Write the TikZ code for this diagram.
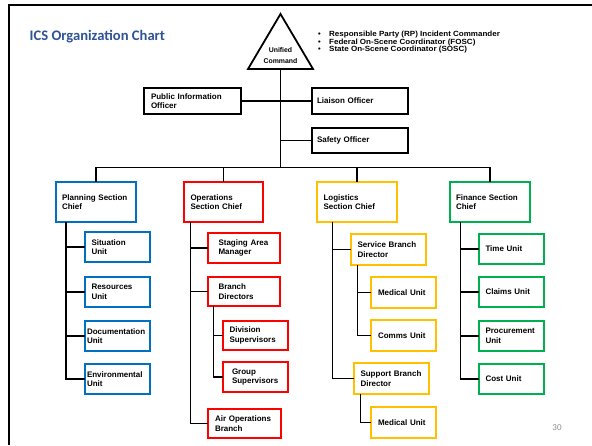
\documentclass[tikz,border=0pt]{standalone}
\usepackage{fontspec}
\setmainfont{Liberation Sans}
\newfontfamily\titlefont{Carlito}
\usetikzlibrary{calc}
\definecolor{cblue}{HTML}{0070C0}
\definecolor{cred}{HTML}{FF0000}
\definecolor{cyel}{HTML}{FFC000}
\definecolor{cgrn}{HTML}{00B050}
\definecolor{ctitle}{HTML}{2F5496}
\definecolor{cnum}{HTML}{8C8C8C}
\begin{document}
\begin{tikzpicture}[x=1pt,y=-1pt,
  bx/.style={draw, line width=2pt, fill=white, align=left,
    font=\bfseries\fontsize{8}{9.6}\selectfont, anchor=north west,
    inner ysep=0pt, outer sep=0pt},
  bk/.style={bx, draw=black},
  bb/.style={bx, draw=cblue},
  br/.style={bx, draw=cred},
  by/.style={bx, draw=cyel},
  bg/.style={bx, draw=cgrn},
  conn/.style={line width=1.4pt, black},
  bul/.style={anchor=base west, inner sep=0pt, font=\bfseries\fontsize{7.5}{8}\selectfont}
]
\useasboundingbox (0,0) rectangle (592,445);
\fill[white] (0,0) rectangle (592,445);
% frame
\draw[line width=2pt] (8.5,445) -- (8.5,5) -- (592,5);
% title
\node[anchor=base west, inner sep=0pt, text=ctitle, font=\titlefont\bfseries\fontsize{14.6}{16}\selectfont] (title) at (29.5,40) {ICS Organization Chart};
% unified command triangle
\coordinate (tl) at (248,69);
\coordinate (tt) at (280.5,14);
\coordinate (tr) at (313,69);
\coordinate (ucb) at (280.5,69);
\draw[line width=1.8pt, line join=miter] (tl) -- (tt) -- (tr) -- cycle;
\node[align=center, inner sep=0pt, font=\bfseries\fontsize{6.9}{10.5}\selectfont] (uc) at (280.5,55.5) {Unified\\Command};
% bullets
\node[bul] (b1) at (318,36) {\makebox[11pt][l]{•}\scalebox{1.07}[1]{Responsible Party (RP) Incident Commander}};
\node[bul] (b2) at (318,44) {\makebox[11pt][l]{•}\scalebox{1.07}[1]{Federal On-Scene Coordinator (FOSC)}};
\node[bul] (b3) at (318,51.5) {\makebox[11pt][l]{•}\scalebox{1.07}[1]{State On-Scene Coordinator (SOSC)}};
% command staff
\node[bk, inner xsep=7pt, text width=83pt, minimum height=26pt] (pio) at (144,88) {Public Information\\Officer};
\node[bk, inner xsep=5pt, text width=86pt, minimum height=26pt] (lia) at (312,88) {Liaison Officer};
\node[bk, inner xsep=5pt, text width=86pt, minimum height=25pt] (saf) at (312,128) {Safety Officer};
% section chiefs
\node[bb, inner xsep=6pt, text width=68pt, minimum height=40pt] (plan) at (56,182) {Planning Section\\Chief};
\node[br, inner xsep=6.5pt, text width=66pt, minimum height=40pt] (ops) at (184,182) {Operations\\Section Chief};
\node[by, inner xsep=6.5pt, text width=67pt, minimum height=40pt] (log) at (317,182) {Logistics\\Section Chief};
\node[bg, inner xsep=6pt, text width=68pt, minimum height=40pt] (fin) at (450,182) {Finance Section\\Chief};
% planning units
\node[bb, inner xsep=6.5pt, text width=52pt, minimum height=30pt] (sit) at (85,232) {Situation\\Unit};
\node[bb, inner xsep=6.5pt, text width=52pt, minimum height=30pt] (res) at (85,277) {Resources\\Unit};
\node[bb, inner xsep=2pt, text width=61pt, minimum height=30pt] (doc) at (85,321) {Documentation\\Unit};
\node[bb, inner xsep=2pt, text width=61pt, minimum height=30pt] (env) at (85,364) {Environmental\\Unit};
% operations
\node[br, inner xsep=10.5pt, text width=51pt, minimum height=30pt] (stg) at (208,233) {Staging Area\\Manager};
\node[br, inner xsep=10.5pt, text width=51pt, minimum height=29pt] (bra) at (208,277) {Branch\\Directors};
\node[br, inner xsep=6.5pt, text width=52pt, minimum height=29pt] (div) at (223,321) {Division\\Supervisors};
\node[br, inner xsep=9pt, text width=47pt, minimum height=30pt] (grp) at (223,362) {Group\\Supervisors};
\node[br, inner xsep=7pt, text width=59pt, minimum height=29pt] (air) at (208,409) {Air Operations\\Branch};
% logistics
\node[by, inner xsep=6.5pt, text width=62pt, minimum height=31pt] (ser) at (351,234) {Service Branch\\Director};
\node[by, inner xsep=7pt, text width=51pt, minimum height=31pt] (med) at (371,277) {Medical Unit};
\node[by, inner xsep=7pt, text width=51pt, minimum height=31pt] (com) at (371,320) {Comms Unit};
\node[by, inner xsep=6.5pt, text width=62pt, minimum height=31pt] (sup) at (354,363) {Support Branch\\Director};
\node[by, inner xsep=7pt, text width=51pt, minimum height=31pt] (medb) at (371,407) {Medical Unit};
% finance
\node[bg, inner xsep=6.5pt, text width=52pt, minimum height=30pt] (tim) at (479,234) {Time Unit};
\node[bg, inner xsep=6.5pt, text width=52pt, minimum height=30pt] (clm) at (479,277) {Claims Unit};
\node[bg, inner xsep=6.5pt, text width=52pt, minimum height=30pt] (prc) at (479,321) {Procurement\\Unit};
\node[bg, inner xsep=6.5pt, text width=52pt, minimum height=30pt] (cst) at (479,364) {Cost Unit};
% page number
\node[inner sep=0pt, text=cnum, font=\titlefont\fontsize{9}{10}\selectfont] (pnum) at (557,428) {30};
% connectors: command
\coordinate (busy) at (0,167.3);
\draw[conn] (ucb) -- (ucb |- busy);
\draw[conn] (pio.east) -- (pio.east -| ucb);
\draw[conn] (ucb |- lia.west) -- (lia.west);
\draw[conn] (ucb |- saf.west) -- (saf.west);
\draw[conn] (plan.north) -- (plan.north |- busy) -- (fin.north |- busy) -- (fin.north);
\draw[conn] (ops.north) -- (ops.north |- busy);
\draw[conn] (log.north) -- (log.north |- busy);
% planning
\coordinate (pv) at ([xshift=10pt]plan.south west);
\draw[conn] (pv) |- (env.west);
\foreach \n in {sit,res,doc} \draw[conn] (pv |- \n.west) -- (\n.west);
% operations
\coordinate (ov) at ([xshift=6.7pt]ops.south west);
\draw[conn] (ov) |- (air.west);
\foreach \n in {stg,bra} \draw[conn] (ov |- \n.west) -- (\n.west);
\coordinate (bv) at ([xshift=5.3pt]bra.south west);
\draw[conn] (bv) |- (grp.west);
\draw[conn] (bv |- div.west) -- (div.west);
% logistics
\coordinate (lv) at ([xshift=15.3pt]log.south west);
\draw[conn] (lv) |- (sup.west);
\draw[conn] (lv |- ser.west) -- (ser.west);
\coordinate (sv) at ([xshift=6.3pt]ser.south west);
\draw[conn] (sv) |- (com.west);
\draw[conn] (sv |- med.west) -- (med.west);
\coordinate (spv) at ([xshift=6.3pt]sup.south west);
\draw[conn] (spv) |- (medb.west);
% finance
\coordinate (fv) at ([xshift=10.3pt]fin.south west);
\draw[conn] (fv) |- (cst.west);
\foreach \n in {tim,clm,prc} \draw[conn] (fv |- \n.west) -- (\n.west);
\end{tikzpicture}
\end{document}
